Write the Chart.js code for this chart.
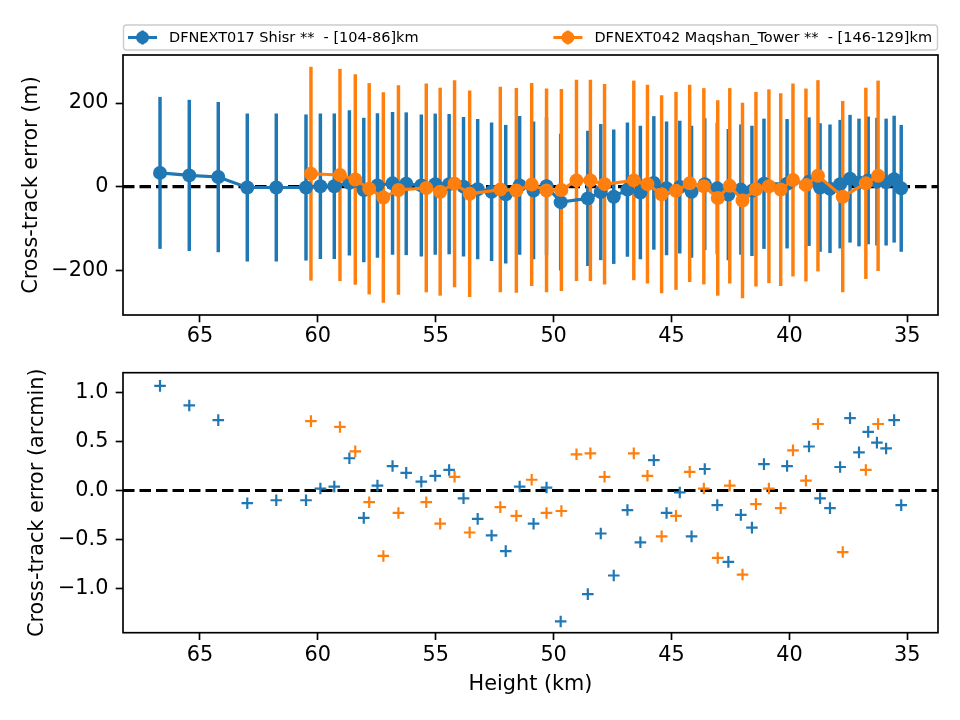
<!DOCTYPE html>
<html>
<head>
<meta charset="UTF-8">
<title>Cross-track error vs height</title>
<style>
    body { margin: 0; background: #fff; }
    #wrap { position: relative; width: 960px; height: 720px; }
    canvas { position: absolute; left: 0; }
    #chartTop { top: 0; }
    #chartBottom { top: 345px; }
</style>
<script src="https://cdn.jsdelivr.net/npm/chart.js@4"></script>
</head>
<body>
<div id="wrap">
    <canvas id="chartTop" width="960" height="345"></canvas>
    <canvas id="chartBottom" width="960" height="375"></canvas>
</div>
<script>
// --- data ---
const BLUE_LABEL = 'DFNEXT017 Shisr **  - [104-86]km';
const ORANGE_LABEL = 'DFNEXT042 Maqshan_Tower **  - [146-129]km';

// heights (km)
const blueHeight = [66.69, 65.45, 64.22, 62.99, 61.76, 60.50, 59.89, 59.30, 58.66, 58.05,
    57.47, 56.83, 56.25, 55.61, 55.02, 54.43, 53.82, 53.22, 52.63, 52.03,
    51.44, 50.85, 50.30, 49.70, 48.55, 48.00, 47.45, 46.87, 46.32, 45.75,
    45.21, 44.65, 44.15, 43.59, 43.06, 42.59, 42.06, 41.59, 41.08, 40.10,
    39.17, 38.70, 38.28, 37.85, 37.43, 37.05, 36.66, 36.29, 35.90, 35.56, 35.26];
const orangeHeight = [60.29, 59.06, 58.41, 57.82, 57.22, 56.58, 55.40, 54.81, 54.20, 53.56,
    52.26, 51.58, 50.93, 50.30, 49.67, 49.03, 48.44, 47.84, 46.60, 46.02,
    45.42, 44.81, 44.23, 43.63, 43.04, 42.53, 41.99, 41.42, 40.87, 40.37,
    39.85, 39.30, 38.79, 37.74, 36.76, 36.24];

// cross-track error (m) and its 1-sigma
const blueErrM = [33, 27, 23, -2, -2, -2, 1, 1, 9, -8,
    3, 8, 7, 3, 6, 6, 0, -6, -12, -18,
    3, -9, 1, -37, -28, -13, -24, -7, -14, 9,
    -4, -1, -12, 6, -4, -19, -7, -10, 7, 7,
    12, -2, -5, 6, 19, 10, 15, 12, 11, 18, -4];
const blueSigma = [181, 180, 179, 176, 176, 174, 173, 173, 173, 172,
    172, 170, 170, 169, 168, 167, 166, 167, 165, 165,
    165, 164, 164, 163, 161, 162, 160, 160, 159, 159,
    159, 158, 157, 157, 157, 156, 155, 155, 155, 154,
    153, 153, 153, 153, 152, 152, 152, 152, 151, 151, 151];
const orangeErrM = [31, 28, 17, -5, -26, -8, -3, -12, 7, -17,
    -7, -9, 5, -9, -8, 15, 15, 6, 15, 6,
    -18, -10, 8, 1, -27, 2, -33, -6, 1, -7,
    16, 4, 26, -24, 8, 26];
const orangeSigma = [255, 253, 251, 252, 251, 250, 249, 248, 247, 246,
    245, 244, 242, 243, 241, 240, 240, 239, 238, 237,
    236, 236, 235, 234, 233, 233, 233, 232, 231, 230,
    230, 230, 228, 228, 228, 227];

// cross-track error (arcmin)
const blueErrArcmin = [1.07, 0.87, 0.72, -0.13, -0.10, -0.10, 0.02, 0.04, 0.33, -0.28,
    0.05, 0.25, 0.18, 0.09, 0.15, 0.21, -0.08, -0.29, -0.46, -0.62,
    0.04, -0.34, 0.03, -1.34, -1.06, -0.44, -0.87, -0.20, -0.53, 0.31,
    -0.23, -0.02, -0.47, 0.22, -0.15, -0.73, -0.25, -0.38, 0.27, 0.25,
    0.45, -0.08, -0.18, 0.24, 0.74, 0.39, 0.60, 0.49, 0.43, 0.72, -0.15];
const orangeErrArcmin = [0.71, 0.65, 0.40, -0.12, -0.67, -0.23, -0.12, -0.34, 0.14, -0.43,
    -0.17, -0.26, 0.11, -0.23, -0.21, 0.37, 0.38, 0.14, 0.38, 0.15,
    -0.47, -0.26, 0.19, 0.02, -0.69, 0.05, -0.86, -0.14, 0.02, -0.18,
    0.41, 0.10, 0.68, -0.63, 0.21, 0.68];

// axes
const X_MIN = 33.7, X_MAX = 68.26;
const X_TICKS = [35, 40, 45, 50, 55, 60, 65];
const TOP_Y_MIN = -307, TOP_Y_MAX = 315;
const TOP_Y_TICKS = [-200, 0, 200];
const BOT_Y_MIN = -1.455, BOT_Y_MAX = 1.205;
const BOT_Y_TICKS = [-1.0, -0.5, 0.0, 0.5, 1.0];
const ZERO_LINE = [{x: X_MAX, y: 0}, {x: X_MIN, y: 0}];

const BLUE = '#1f77b4';
const ORANGE = '#ff7f0e';
const FONT = 20.8;

Chart.defaults.font.family = '"DejaVu Sans", sans-serif';
Chart.defaults.color = '#000';

const minus = s => s.replace('-', '\u2212');

function xAxis(height, showTitle, pad) {
    return {
        type: 'linear', reverse: true, min: X_MIN, max: X_MAX, offset: false,
        afterFit: s => { s.height = height; },
        afterBuildTicks: s => { s.ticks = X_TICKS.map(v => ({value: v})); },
        grid: {display: true, offset: false, drawOnChartArea: false, drawTicks: true, tickLength: 7.3, tickWidth: 1.67, tickColor: '#000'},
        border: {display: false},
        ticks: {padding: pad, font: {size: FONT}, color: '#000', maxRotation: 0, autoSkip: false,
            callback: v => String(v)},
        title: {display: showTitle, text: 'Height (km)', font: {size: FONT}, color: '#000', padding: {bottom: 22.5}}
    };
}

function yAxis(min, max, ticks, title, titlePad, fmt) {
    return {
        type: 'linear', min: min, max: max, stacked: false,
        afterFit: s => { s.width = 123; },
        afterBuildTicks: s => { s.ticks = ticks.map(v => ({value: v})); },
        grid: {display: true, drawOnChartArea: false, drawTicks: true, tickLength: 7.3, tickWidth: 1.67, tickColor: '#000'},
        border: {display: false},
        ticks: {padding: 7.3, font: {size: FONT}, color: '#000', callback: fmt},
        title: {display: true, text: title, font: {size: FONT}, color: '#000', padding: {top: titlePad}}
    };
}

// axes frame (all four spines)
const frame = {
    id: 'frame',
    afterDatasetsDraw(chart) {
        const {ctx, chartArea: a} = chart;
        ctx.save();
        ctx.strokeStyle = '#000';
        ctx.lineWidth = 1.67;
        ctx.strokeRect(a.left, a.top, a.right - a.left, a.bottom - a.top);
        ctx.restore();
    }
};

// matplotlib style legend, mode "expand", above the top axes
const legendBox = {
    id: 'legendBox',
    afterDraw(chart, args, opts) {
        const {ctx, chartArea} = chart;
        const left = chartArea.left, right = chartArea.right;
        const top = chartArea.top - 30, bottom = chartArea.top - 5;
        const midY = (top + bottom) / 2;
        ctx.save();
        ctx.beginPath();
        ctx.roundRect(left + 0.5, top, right - left - 1, bottom - top, 3);
        ctx.fillStyle = 'rgba(255,255,255,0.8)';
        ctx.fill();
        ctx.strokeStyle = '#cccccc';
        ctx.lineWidth = 1.4;
        ctx.stroke();
        ctx.font = '14.5px "DejaVu Sans"';
        ctx.textBaseline = 'middle';
        opts.items.forEach((item, i) => {
            const w = ctx.measureText(item.text).width;
            const textX = i === 0 ? left + 46 : right - 6 - w;
            const h0 = textX - 41, h1 = textX - 12, cx = (h0 + h1) / 2;
            ctx.strokeStyle = item.color;
            ctx.lineWidth = 3.1;
            ctx.beginPath(); ctx.moveTo(h0, midY); ctx.lineTo(h1, midY); ctx.stroke();
            ctx.lineWidth = 2.8;
            ctx.beginPath(); ctx.moveTo(cx, midY - 7); ctx.lineTo(cx, midY + 7); ctx.stroke();
            ctx.fillStyle = item.color;
            ctx.beginPath(); ctx.arc(cx, midY, 6.5, 0, Math.PI * 2); ctx.fill();
            ctx.fillStyle = '#000';
            ctx.fillText(item.text, textX, midY + 1);
        });
        ctx.restore();
    }
};

function points(xs, ys) {
    return xs.map((x, i) => ({x: x, y: ys[i]}));
}
function errBars(xs, ys, sig) {
    return xs.map((x, i) => ({x: x, y: [ys[i] - sig[i], ys[i] + sig[i]]}));
}

const zeroLine = {
    type: 'line', data: ZERO_LINE, borderColor: '#000', borderWidth: 3.1,
    borderDash: [11.5, 5], pointRadius: 0, fill: false
};

function barSet(xs, ys, sig, color, order) {
    // all error bars share one stack slot so they sit exactly on their x value
    return {type: 'bar', data: errBars(xs, ys, sig), backgroundColor: color, borderWidth: 0,
        grouped: true, stack: 'err', barThickness: 2.8, order: order};
}
function lineSet(xs, ys, color, order) {
    return {type: 'line', data: points(xs, ys), borderColor: color, backgroundColor: color,
        borderWidth: 3.1, pointRadius: 7, pointBorderWidth: 0, pointBackgroundColor: color,
        tension: 0, fill: false, order: order};
}
function crossSet(xs, ys, color, order) {
    return {type: 'line', data: points(xs, ys), showLine: false, borderColor: color,
        backgroundColor: color, pointStyle: 'cross', pointRadius: 5.8, pointBorderWidth: 2.2,
        pointBorderColor: color, order: order};
}

const common = {
    responsive: false, animation: false, events: [], devicePixelRatio: 1
};

new Chart(document.getElementById('chartTop'), {
    type: 'line',
    data: {
        datasets: [
            Object.assign({}, zeroLine, {order: 5}),
            barSet(blueHeight, blueErrM, blueSigma, BLUE, 4),
            barSet(orangeHeight, orangeErrM, orangeSigma, ORANGE, 3),
            lineSet(blueHeight, blueErrM, BLUE, 2),
            lineSet(orangeHeight, orangeErrM, ORANGE, 1)
        ]
    },
    options: Object.assign({}, common, {
        layout: {padding: {left: 0, right: 22, top: 55, bottom: 0}},
        plugins: {
            legend: {display: false},
            tooltip: {enabled: false},
            legendBox: {items: [{text: BLUE_LABEL, color: BLUE}, {text: ORANGE_LABEL, color: ORANGE}]}
        },
        scales: {
            x: xAxis(30, false, 1.5),
            y: yAxis(TOP_Y_MIN, TOP_Y_MAX, TOP_Y_TICKS, 'Cross-track error (m)', 19.5,
                v => minus(String(v)))
        }
    }),
    plugins: [frame, legendBox]
});

new Chart(document.getElementById('chartBottom'), {
    type: 'line',
    data: {
        datasets: [
            Object.assign({}, zeroLine, {order: 3}),
            crossSet(blueHeight, blueErrArcmin, BLUE, 2),
            crossSet(orangeHeight, orangeErrArcmin, ORANGE, 1)
        ]
    },
    options: Object.assign({}, common, {
        layout: {padding: {left: 0, right: 22, top: 27.7, bottom: 0}},
        plugins: {legend: {display: false}, tooltip: {enabled: false}},
        scales: {
            x: xAxis(87.3, true, 3),
            y: yAxis(BOT_Y_MIN, BOT_Y_MAX, BOT_Y_TICKS, 'Cross-track error (arcmin)', 25.5,
                v => minus(v.toFixed(1)))
        }
    }),
    plugins: [frame]
});
</script>
</body>
</html>
